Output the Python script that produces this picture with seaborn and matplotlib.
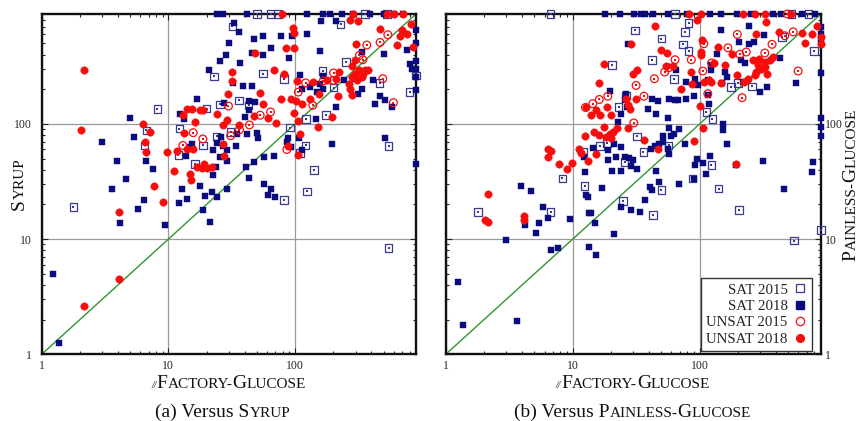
import numpy as np
import pandas as pd
import seaborn as sns
import matplotlib
matplotlib.use("Agg")
import matplotlib.pyplot as plt
from matplotlib.lines import Line2D
from matplotlib.ticker import FixedLocator, FixedFormatter, NullFormatter, LogLocator

# (factory-glucose time, other solver time) in seconds, timeouts at 900
syrup_sat15 = [(1.78, 19), (8.2, 135), (6.5, 65), (6.7, 88), (12.2, 91), (12, 53.5), (16.2, 44.7), (18.7, 65),
               (20, 136), (23, 259), (25.6, 148), (24, 78), (31, 85), (32, 703), (36, 160), (43, 145), (50, 900),
               (64, 900), (73, 900), (56, 273), (82, 247), (91, 93), (109, 56), (122, 111), (121, 65), (124, 26),
               (141, 40), (82, 21.8), (176, 119), (201, 207), (165, 288), (253, 345), (229, 731), (464, 227),
               (546, 64), (546, 8.4), (800, 189), (900, 264), (356, 900), (530, 900)]
syrup_sat18 = [(24, 900), (27, 900), (41.5, 900), (124, 900), (167, 900), (190, 900), (234, 900), (288, 900),
               (390, 900), (500, 900), (600, 900), (716, 900), (900, 650), (900, 500), (900, 355), (900, 302),
               (900, 255), (900, 196), (900, 45), (33, 751), (36, 630), (30, 503), (28.5, 400), (25.6, 352),
               (37, 338), (47, 550), (56, 583), (64, 456), (77, 583), (94, 583), (124, 605), (46, 413), (56, 400),
               (90, 373), (21, 296), (156, 430), (159, 790), (210, 790), (503, 404), (760, 441), (39, 212),
               (45.5, 212), (32.6, 227), (43, 158), (48, 155), (27.7, 152), (16.7, 163), (43, 133), (40, 116),
               (41.5, 82), (50, 84), (51, 76), (35, 82), (26, 77), (24, 68), (27, 64), (22.4, 59), (34, 64),
               (29, 59), (25.6, 52), (29, 48), (23.6, 42), (22.6, 36), (41, 42), (43.6, 33.6), (47, 47), (57, 52),
               (68, 53), (57, 30), (64, 27), (61.5, 24), (69.5, 23), (29, 27), (24, 23), (22, 25.7), (19.5, 23.9),
               (17.8, 29), (18.9, 18), (21.3, 14.2), (14, 22.5), (12.2, 20.4), (12.7, 27), (14.7, 63), (15.3, 67),
               (13.8, 52.5), (12.4, 123), (13.3, 111), (9.4, 13.2), (7.6, 41), (6.7, 48), (6.4, 21.8), (5.8, 18.3),
               (5.4, 77), (5.0, 113), (4.6, 33), (3.9, 48), (4.15, 13.7), (3.6, 27), (3.0, 69), (1.24, 5.0),
               (1.37, 1.25), (88, 76), (92.5, 63), (87, 70), (108, 76), (113, 59), (113, 202), (131, 209),
               (109, 268), (148, 189), (165, 259), (157, 221), (165, 202), (211, 140), (147, 111), (195, 67),
               (241, 239), (298, 247), (336, 421), (316, 183), (336, 202), (415, 239), (428, 150), (464, 174),
               (514, 160), (579, 140), (514, 75), (809, 333), (833, 302)]
syrup_unsat15 = [(29.8, 143), (15.7, 84), (18.7, 74), (13, 65), (31, 79), (36.4, 89), (43.6, 98), (53, 119),
                 (64, 127), (86, 60), (106, 189), (121, 227), (138, 145), (167, 236), (201, 277), (201, 239),
                 (492, 247), (597, 153), (368, 484), (469, 510), (539, 595), (322, 394), (342, 361)]
syrup_unsat18 = [(2.17, 296), (2.03, 89), (4.08, 17.3), (4.08, 4.47), (2.16, 2.64), (6.35, 99), (7.2, 85),
                 (6.5, 70), (6.7, 57), (7.7, 29), (9.1, 21), (9.7, 57), (11.1, 38.9), (11.8, 58), (13.1, 119),
                 (14, 136), (15.3, 136), (17.8, 131), (18.7, 131), (16.2, 104), (13.3, 84), (14, 61), (15.7, 61),
                 (14.7, 37), (15.1, 32.5), (16.7, 42), (18.3, 41.5), (20, 41.5), (22, 42), (19, 44.7), (24, 121),
                 (27, 97), (29, 109), (27, 67.5), (27.5, 52.5), (29.4, 183), (31.6, 234), (31.6, 282), (36.4, 97),
                 (47, 118), (53, 186), (56, 150), (61, 113), (71, 102), (68, 296), (77, 166), (82, 270), (84, 456),
                 (48, 413), (96, 684), (98, 615), (98, 456), (92.5, 163), (102, 158), (98, 125), (106, 106),
                 (113, 148), (109, 81), (106, 54), (88, 64), (104, 234), (130, 166), (138, 231), (154, 183),
                 (153, 95), (178, 239), (195, 115), (211, 247), (224, 282), (217, 174), (264, 224), (280, 255),
                 (298, 271), (307, 239), (322, 292), (336, 255), (346, 271), (272, 202), (280, 177), (357, 292),
                 (379, 292), (298, 361), (280, 316), (301, 497), (272, 803), (316, 780), (469, 671), (635, 481),
                 (667, 576), (762, 607), (695, 658), (819, 731), (859, 465), (530, 900), (600, 900), (716, 900),
                 (288, 900), (78.5, 900)]

painless_sat15 = [(1.8, 17.3), (6.7, 17.3), (8.3, 33.6), (12.4, 28.8), (12.2, 57), (16.4, 64), (18.7, 68),
                  (25.6, 47), (24.8, 21.5), (23, 140), (26.4, 177), (32, 78), (36, 57), (43, 16.1), (50, 26.6),
                  (57, 65), (88, 33.6), (124, 44), (141, 27.5), (205, 18), (552, 9.7), (900, 12), (113, 127),
                  (126, 111), (20.5, 323), (31, 648), (50, 550), (42, 361), (63, 247), (74, 491), (77, 630),
                  (82, 751), (82, 430), (176, 209), (201, 227), (259, 212), (447, 568), (800, 430), (6.7, 900),
                  (64, 900), (530, 900), (720, 900)]
painless_sat18 = [(1.24, 4.27), (1.37, 1.8), (3.64, 1.95), (3.0, 9.8), (3.95, 29), (4.7, 26.4), (5.8, 19),
                  (4.2, 13.2), (5.1, 11.4), (5.4, 13.7), (6.4, 15.4), (6.8, 8.0), (7.7, 8.4), (9.6, 15.1),
                  (13.4, 16.7), (14, 16.9), (15.1, 13.7), (13.5, 8.5), (15.3, 7.3), (21.3, 11.1), (12.4, 37.9),
                  (12.7, 24), (13.3, 23), (17, 27.9), (12.2, 52), (14.4, 62), (18.9, 59), (18.9, 49), (20.3, 39),
                  (21.3, 67.5), (24, 63), (22, 52), (25.6, 52), (28, 50.5), (30, 48.5), (24, 39), (29, 43), (32, 41),
                  (24, 19), (29, 18), (34, 17.3), (37, 22), (41, 28.4), (42, 26.6), (48, 31.4), (45, 39),
                  (41.5, 61), (44.7, 64), (48, 67.5), (51, 78), (51, 70), (57, 93), (60, 78), (63, 81), (69, 90),
                  (56, 60), (57, 55), (76, 67), (69, 30), (91, 33), (96, 50), (92.5, 44.4), (106, 45.7),
                  (120, 52.5), (113, 37), (153, 99), (153, 88), (165, 67), (195, 44), (316, 48), (464, 27.5),
                  (762, 38.5), (776, 47), (900, 113), (900, 94), (900, 78), (900, 277), (900, 514), (579, 227),
                  (428, 376), (298, 189), (342, 209), (244, 703), (322, 587), (203, 514), (244, 491), (268, 514),
                  (211, 361), (226, 338), (220, 231), (147, 658), (138, 407), (124, 323), (124, 292), (157, 282),
                  (165, 255), (150, 227), (116, 242), (97, 216), (90, 174), (78.5, 166), (67, 160), (57, 163),
                  (64, 160), (47, 158), (42, 163), (39, 136), (45.5, 123), (56, 113), (78, 231), (65.5, 296),
                  (92.5, 247), (116, 177), (118, 150), (24, 123), (27, 140), (25.6, 160), (26.4, 183), (22.6, 104),
                  (19.6, 192), (27.5, 491), (18, 900), (23.8, 900), (30.3, 900), (34.6, 900), (36.8, 900),
                  (42.8, 900), (56, 900), (80, 900), (120, 900), (147, 900), (198, 900), (256, 900), (379, 900),
                  (441, 900), (635, 900), (809, 900), (900, 700), (900, 600)]
painless_unsat15 = [(12.6, 139), (14.4, 150), (16.2, 163), (18.9, 174), (31.6, 216), (36.4, 174), (30.3, 102),
                    (44, 247), (53, 282), (57, 307), (64, 361), (86, 361), (108, 497), (106, 288), (124, 338),
                    (116, 183), (167, 458), (198, 599), (207, 402), (233, 421), (216, 169), (326, 413), (372, 491),
                    (469, 583), (546, 630), (597, 288), (492, 900)]
painless_unsat18 = [(2.17, 24.5), (2.03, 14.6), (2.17, 14.2), (4.15, 15.9), (4.1, 14.8), (6.35, 61), (6.7, 58),
                    (6.4, 52), (7.85, 44.7), (9.1, 40.5), (9.8, 46), (11.3, 60), (11.6, 56), (13.3, 47.5),
                    (12.5, 78), (14.7, 85), (15.3, 55), (16.2, 80), (17.8, 94), (18.3, 77), (19.5, 82), (20.7, 85),
                    (22.4, 93), (20, 75), (27.2, 93), (12.7, 139), (14, 119), (15.3, 133), (16.5, 119), (18.7, 139),
                    (20, 119), (16, 227), (17.8, 333), (26.4, 163), (27.2, 145), (28.5, 136), (29, 497),
                    (29.8, 270), (32, 292), (31.6, 166), (36.4, 73), (44.7, 703), (50, 441), (55.6, 413),
                    (54.6, 316), (61.5, 316), (71, 202), (87, 224), (96, 803), (104, 539), (102, 421), (102, 400),
                    (86, 282), (109, 231), (118, 239), (122, 231), (100, 143), (106, 93), (90, 71), (47, 61),
                    (140, 465), (130, 338), (148, 227), (157, 323), (198, 264), (180, 402), (195, 44.7), (280, 599),
                    (336, 766), (423, 630), (264, 356), (294, 367), (289, 323), (307, 302), (280, 282), (326, 312),
                    (272, 264), (241, 247), (224, 231), (342, 273), (357, 356), (326, 345), (379, 381), (674, 504),
                    (635, 615), (772, 607), (834, 703), (900, 568), (900, 497), (83, 900), (103, 900), (220, 900),
                    (272, 900), (326, 900), (529, 900)]

kinds = ["SAT 2015", "SAT 2018", "UNSAT 2015", "UNSAT 2018"]
tick_vals = [1, 10, 100]
tick_labels = ["1", "10", "100"]


def make_df(groups):
    frames = []
    for kind, pts in zip(kinds, groups):
        d = pd.DataFrame(pts, columns=["fg", "other"])
        d["kind"] = kind
        frames.append(d)
    return pd.concat(frames, ignore_index=True)


syrup = make_df([syrup_sat15, syrup_sat18, syrup_unsat15, syrup_unsat18])
painless = make_df([painless_sat15, painless_sat18, painless_unsat15, painless_unsat18])

sns.set_theme(style="ticks")
plt.rcParams["font.family"] = ["Liberation Serif", "DejaVu Serif"]

NAVY = "#0b0b80"
RED = "#f80c0c"
GREEN = "#2f962f"

styles = {
    "SAT 2015": dict(marker="s", s=30, facecolor="none", edgecolor="#3a3a95", linewidth=0.9),
    "SAT 2018": dict(marker="s", s=25, color=NAVY, edgecolor=NAVY, linewidth=0.3),
    "UNSAT 2015": dict(marker="o", s=31, facecolor="none", edgecolor=RED, linewidth=0.9),
    "UNSAT 2018": dict(marker="o", s=29, color=RED, edgecolor=RED, linewidth=0.3),
}

W, H = 859, 421
fig = plt.figure(figsize=(W / 100, H / 100), dpi=100)
ax1 = fig.add_axes([0.0485, 0.1584, 0.4358, 0.8083])
ax2 = fig.add_axes([0.5189, 0.1584, 0.4366, 0.8083])


def draw_panel(ax, df):
    ax.plot([1, 900], [1, 900], color=GREEN, lw=1.0, zorder=2)
    for kind in kinds:
        sub = df[df["kind"] == kind]
        sns.scatterplot(data=sub, x="fg", y="other", ax=ax, legend=False, clip_on=False, zorder=3,
                        **styles[kind])
        if "2015" in kind:
            # little dot in the middle of the open markers
            sns.scatterplot(data=sub, x="fg", y="other", ax=ax, legend=False, clip_on=False, zorder=3,
                            marker="s", s=1.2, color=styles[kind]["edgecolor"], linewidth=0)
    ax.set_xscale("log")
    ax.set_yscale("log")
    ax.set_xlim(1, 900)
    ax.set_ylim(1, 900)
    ax.set_xlabel("")
    ax.set_ylabel("")
    for axis in (ax.xaxis, ax.yaxis):
        axis.set_major_locator(FixedLocator(tick_vals))
        axis.set_major_formatter(FixedFormatter(tick_labels))
        axis.set_minor_locator(LogLocator(base=10, subs=np.arange(2, 10), numticks=20))
        axis.set_minor_formatter(NullFormatter())
    ax.grid(True, which="major", color="#9a9a9a", lw=0.9)
    ax.tick_params(which="both", direction="in", top=True, right=True, left=True, bottom=True,
                   width=0.8, color="#222222", labelsize=8.5)
    ax.tick_params(which="major", length=4)
    ax.tick_params(which="minor", length=2.5)
    ax.tick_params(axis="x", pad=4)
    for sp in ax.spines.values():
        sp.set_linewidth(1.7)
        sp.set_color("#111111")
        sp.set_zorder(2.5)


draw_panel(ax1, syrup)
draw_panel(ax2, painless)
ax1.tick_params(axis="y", pad=7)
ax2.tick_params(axis="y", labelleft=False, labelright=True, pad=3)

handles = [
    Line2D([], [], ls="none", marker="s", ms=6, mfc="none", mec="#3a3a95", mew=0.9),
    Line2D([], [], ls="none", marker="s", ms=5.5, mfc=NAVY, mec=NAVY),
    Line2D([], [], ls="none", marker="o", ms=6, mfc="none", mec=RED, mew=0.9),
    Line2D([], [], ls="none", marker="o", ms=5.5, mfc=RED, mec=RED),
]
leg = ax2.legend(handles, kinds, loc="lower right", bbox_to_anchor=(0.977, 0.01), borderaxespad=0,
                 markerfirst=False, fontsize=10.7, fancybox=False, edgecolor="#333333", framealpha=1,
                 handlelength=0.9, handletextpad=0.4, labelspacing=0.2, borderpad=0.35)
leg.get_frame().set_linewidth(1.0)
leg.set_zorder(5)


def sc_text(cx, cy, parts, vertical=False):
    # fake small caps: consecutive text pieces of two sizes; cx, cy in pixels from top-left
    r = fig.canvas.get_renderer()
    widths = []
    for s, fs, st in parts:
        t = fig.text(0, 0, s + "|", fontsize=fs, style=st)
        b = fig.text(0, 0, "|", fontsize=fs, style=st)
        widths.append(t.get_window_extent(r).width - b.get_window_extent(r).width)
        t.remove()
        b.remove()
    pos = -sum(widths) / 2
    for (s, fs, st), w in zip(parts, widths):
        if vertical:
            fig.text(cx / W, 1 - (cy - pos) / H, s, fontsize=fs, style=st, rotation=90,
                     rotation_mode="anchor", ha="left", va="baseline", color="#111111")
        else:
            fig.text((cx + pos) / W, 1 - cy / H, s, fontsize=fs, style=st, ha="left", va="baseline",
                     color="#111111")
        pos += w


BIG, SMALL = 14, 11
fg_label = [("//", 7, "italic"), ("F", BIG, "normal"), ("ACTORY-", SMALL, "normal"),
            ("G", BIG, "normal"), ("LUCOSE", SMALL, "normal")]
sc_text(228.5, 388, fg_label)
sc_text(633, 388, fg_label)
sc_text(23.5, 184, [("S", BIG, "normal"), ("YRUP", SMALL, "normal")], vertical=True)
sc_text(855.5, 185, [("P", BIG, "normal"), ("AINLESS-", SMALL, "normal"), ("G", BIG, "normal"),
                     ("LUCOSE", SMALL, "normal")], vertical=True)
sc_text(223, 417, [("(a) Versus S", BIG, "normal"), ("YRUP", SMALL, "normal")])
sc_text(632.5, 417, [("(b) Versus P", BIG, "normal"), ("AINLESS-", SMALL, "normal"), ("G", BIG, "normal"),
                     ("LUCOSE", SMALL, "normal")])

fig.savefig("out.png", dpi=100, facecolor="white")
